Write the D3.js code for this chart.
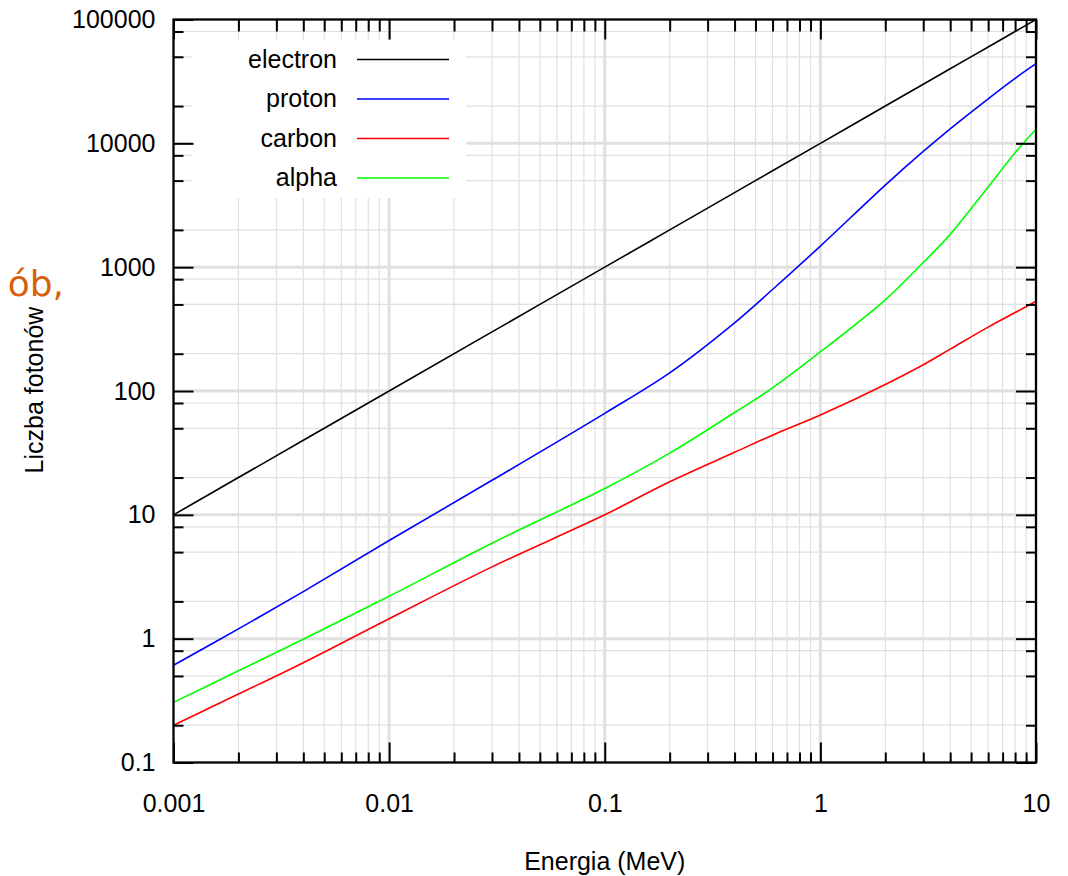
<!DOCTYPE html>
<html>
<head>
<meta charset="utf-8">
<script src="https://cdn.jsdelivr.net/npm/d3@7"></script>
<style>
  body { margin: 0; background: #fff; }
  text { font-family: "Liberation Sans", Arial, Helvetica, sans-serif; }
</style>
</head>
<body>
<svg id="chart" width="1068" height="876"></svg>
<script>
// energies (MeV)
var energy = [0.001, 0.002, 0.004, 0.01, 0.03, 0.1, 0.2, 0.4, 0.6, 1, 2, 3, 4, 6, 8, 10];

// photon counts for each particle
var electron = [10, 20, 40, 100, 300, 1000, 2000, 4000, 6000, 10000, 20000, 30000, 40000, 60000, 80000, 100000];
var proton   = [0.61, 1.2, 2.4, 6.2, 19, 66, 140, 355, 660, 1480, 4600, 8600, 13100, 22900, 33500, 44000];
var alpha    = [0.306, 0.55, 0.99, 2.2, 5.9, 16.3, 31.5, 67, 106, 207, 545, 1090, 1840, 4450, 8400, 13000];
var carbon   = [0.2, 0.357, 0.64, 1.45, 3.8, 10, 18.5, 32, 44, 64, 113, 163, 218, 328, 430, 530];

var seriesNames = ["electron", "proton", "carbon", "alpha"];
var seriesValues = [electron, proton, carbon, alpha];
var seriesColors = ["#000000", "#0000ff", "#ff0000", "#00ff00"];

var xMajor = [0.001, 0.01, 0.1, 1, 10];
var xMajorLabels = ["0.001", "0.01", "0.1", "1", "10"];
var yMajor = [0.1, 1, 10, 100, 1000, 10000, 100000];
var yMajorLabels = ["0.1", "1", "10", "100", "1000", "10000", "100000"];
var xMinorSteps = [2, 3, 4, 5, 6, 7, 8, 9];
var yMinorSteps = [2, 5, 8];

var plotLeft = 173.5, plotRight = 1036, plotTop = 19.5, plotBottom = 762.5;

var x = d3.scaleLog().domain([0.001, 10]).range([plotLeft, plotRight]);
var y = d3.scaleLog().domain([0.1, 100000]).range([plotBottom, plotTop]);

function minors(major, steps, max) {
  var out = [];
  major.forEach(function(m) {
    steps.forEach(function(s) { if (m * s < max) out.push(m * s); });
  });
  return out;
}
var xMinor = minors(xMajor, xMinorSteps, 10);
var yMinor = minors(yMajor, yMinorSteps, 100000);

var svg = d3.select("#chart");

// grid
var grid = svg.append("g").attr("stroke", "#e0e0e0");
grid.selectAll(".vminor").data(xMinor).enter().append("line")
    .attr("x1", x).attr("x2", x).attr("y1", plotTop).attr("y2", plotBottom)
    .attr("stroke-width", 1.2);
grid.selectAll(".hminor").data(yMinor).enter().append("line")
    .attr("y1", y).attr("y2", y).attr("x1", plotLeft).attr("x2", plotRight)
    .attr("stroke-width", 1.2);
grid.selectAll(".vmajor").data(xMajor).enter().append("line")
    .attr("x1", x).attr("x2", x).attr("y1", plotTop).attr("y2", plotBottom)
    .attr("stroke-width", 3);
grid.selectAll(".hmajor").data(yMajor).enter().append("line")
    .attr("y1", y).attr("y2", y).attr("x1", plotLeft).attr("x2", plotRight)
    .attr("stroke-width", 3);

// legend background hides the grid
svg.append("rect")
    .attr("x", 192).attr("y", 40).attr("width", 274).attr("height", 158)
    .attr("fill", "#fff");

// curves
var line = d3.line()
    .curve(d3.curveCatmullRom.alpha(0.5))
    .x(function(d, i) { return x(energy[i]); })
    .y(function(d) { return y(d); });

svg.append("g").selectAll("path")
    .data(seriesValues)
  .enter().append("path")
    .attr("d", line)
    .attr("fill", "none")
    .attr("stroke", function(d, i) { return seriesColors[i]; })
    .attr("stroke-width", 1.6);

// axes (ticks pointing inward, on all four sides)
function styleAxis(g) {
  g.select(".domain").remove();
  g.selectAll(".tick line").attr("stroke", "#000").attr("stroke-width", 2);
  g.selectAll("text").attr("font-size", 25)
      .attr("font-family", "'Liberation Sans', Arial, sans-serif").attr("fill", "#000");
}

svg.append("g").attr("transform", "translate(0," + plotBottom + ")")
    .call(d3.axisBottom(x).tickValues(xMajor).tickSizeInner(-20).tickPadding(32)
      .tickFormat(function(d, i) { return xMajorLabels[i]; }))
    .call(styleAxis);
svg.append("g").attr("transform", "translate(0," + plotBottom + ")")
    .call(d3.axisBottom(x).tickValues(xMinor).tickSizeInner(-10).tickFormat(""))
    .call(styleAxis);
svg.append("g").attr("transform", "translate(0," + plotTop + ")")
    .call(d3.axisTop(x).tickValues(xMajor).tickSizeInner(-20).tickFormat(""))
    .call(styleAxis);
svg.append("g").attr("transform", "translate(0," + plotTop + ")")
    .call(d3.axisTop(x).tickValues(xMinor).tickSizeInner(-12).tickFormat(""))
    .call(styleAxis);

svg.append("g").attr("transform", "translate(" + plotLeft + ",0)")
    .call(d3.axisLeft(y).tickValues(yMajor).tickSizeInner(-20).tickPadding(18)
      .tickFormat(function(d, i) { return yMajorLabels[i]; }))
    .call(styleAxis);
svg.append("g").attr("transform", "translate(" + plotLeft + ",0)")
    .call(d3.axisLeft(y).tickValues(yMinor).tickSizeInner(-10).tickFormat(""))
    .call(styleAxis);
svg.append("g").attr("transform", "translate(" + plotRight + ",0)")
    .call(d3.axisRight(y).tickValues(yMajor).tickSizeInner(-20).tickFormat(""))
    .call(styleAxis);
svg.append("g").attr("transform", "translate(" + plotRight + ",0)")
    .call(d3.axisRight(y).tickValues(yMinor).tickSizeInner(-10).tickFormat(""))
    .call(styleAxis);

// frame
svg.append("rect")
    .attr("x", plotLeft).attr("y", plotTop)
    .attr("width", plotRight - plotLeft).attr("height", plotBottom - plotTop)
    .attr("fill", "none").attr("stroke", "#000").attr("stroke-width", 2.2);

// legend
var legend = svg.append("g").selectAll("g")
    .data(seriesNames)
  .enter().append("g")
    .attr("transform", function(d, i) { return "translate(0," + (59.5 + i * 39.5) + ")"; });
legend.append("text")
    .attr("x", 337).attr("dy", "0.33em")
    .attr("text-anchor", "end").attr("font-size", 25)
    .text(function(d) { return d; });
legend.append("line")
    .attr("x1", 357).attr("x2", 449)
    .attr("stroke", function(d, i) { return seriesColors[i]; })
    .attr("stroke-width", 1.6);

// axis titles
svg.append("text")
    .attr("x", (plotLeft + plotRight) / 2).attr("y", 870)
    .attr("text-anchor", "middle").attr("font-size", 25)
    .text("Energia (MeV)");
svg.append("text")
    .attr("transform", "translate(43,390)rotate(-90)")
    .attr("text-anchor", "middle").attr("font-size", 25)
    .text("Liczba fotonów");

// stray orange caption fragment at the left edge
svg.append("text")
    .attr("x", 64).attr("y", 296)
    .attr("text-anchor", "end").attr("font-size", 36)
    .attr("fill", "#d95f0e")
    .style("font-family", "'DejaVu Sans', 'Noto Sans', sans-serif")
    .text("ób,");
</script>
</body>
</html>
